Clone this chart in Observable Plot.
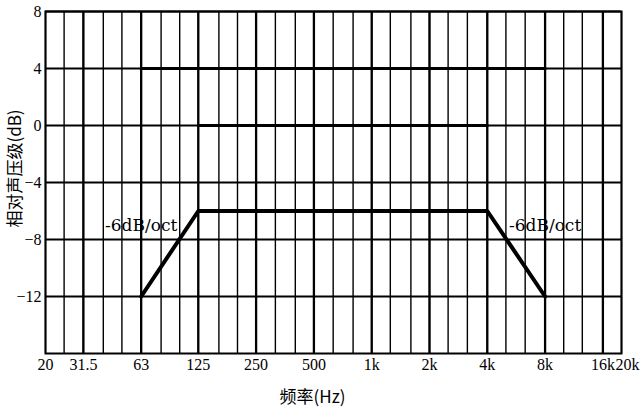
<!DOCTYPE html>
<html>
<head>
<meta charset="utf-8">
<script src="https://cdn.jsdelivr.net/npm/d3@7"></script>
<script src="https://cdn.jsdelivr.net/npm/@observablehq/plot@0.6"></script>
<style>
  html, body { margin: 0; padding: 0; background: #fff; }
</style>
</head>
<body>
<div id="chart"></div>
<script>
// Third-octave grid frequencies (Hz)
const thirdOctaveFreqs = [20,25,31.5,40,50,63,80,100,125,160,200,250,315,400,500,630,800,1000,1250,1600,2000,2500,3150,4000,5000,6300,8000,10000,12500,16000,20000];
// Octave grid frequencies (Hz), drawn thicker
const octaveFreqs = [31.5,63,125,250,500,1000,2000,4000,8000,16000];
// X tick values and labels
const xTickValues = [20,31.5,63,125,250,500,1000,2000,4000,8000,16000];
const xTickLabels = ["20","31.5","63","125","250","500","1k","2k","4k","8k","16k"];
const xLastTick = [20000];
const xLastLabel = ["20k"];
// Y ticks / gridlines (dB)
const yTicks = [8,4,0,-4,-8,-12];

// Upper tolerance step at +4 dB
const upperFreq = [63, 8000];
const upperDb = [4, 4];
// Step at 0 dB
const zeroFreq = [125, 4000];
const zeroDb = [0, 0];
// Lower boundary with -6 dB/oct slopes
const lowerFreq = [63, 125, 4000, 8000];
const lowerDb = [-12, -6, -6, -12];

// Annotations
const annFreq = [63, 8000];
const annDb = [-7, -7];
const annText = ["-6dB/oct", "-6dB/oct"];

const yLabel = "相对声压级(dB)";
const xLabel = "频率(Hz)";

const toRows = (xs, ys) => xs.map((x, i) => ({f: x, db: ys[i]}));
const upper = toRows(upperFreq, upperDb);
const zero = toRows(zeroFreq, zeroDb);
const lower = toRows(lowerFreq, lowerDb);
const ann = annFreq.map((f, i) => ({f, db: annDb[i], t: annText[i]}));
const xTicks = xTickValues.map((f, i) => ({f, t: xTickLabels[i]}));
const xTicksLast = xLastTick.map((f, i) => ({f, t: xLastLabel[i]}));

const chart = Plot.plot({
  width: 640,
  height: 407,
  marginTop: 11,
  marginBottom: 54,
  marginLeft: 45,
  marginRight: 19,
  style: {
    fontFamily: "'Liberation Serif', 'Noto Sans CJK SC', serif",
    fontSize: "16px",
    color: "#000",
    background: "#fff"
  },
  x: {type: "log", domain: [20, 20000], axis: null},
  y: {domain: [-16, 8], axis: null},
  marks: [
    Plot.ruleX(thirdOctaveFreqs, {stroke: "#000", strokeWidth: 1.4}),
    Plot.ruleX(octaveFreqs, {stroke: "#000", strokeWidth: 2.3}),
    Plot.ruleY(yTicks, {stroke: "#000", strokeWidth: 2}),
    Plot.frame({stroke: "#000", strokeWidth: 2}),
    Plot.line(upper, {x: "f", y: "db", stroke: "#000", strokeWidth: 3.2}),
    Plot.line(zero, {x: "f", y: "db", stroke: "#000", strokeWidth: 3.2}),
    Plot.line(lower, {x: "f", y: "db", stroke: "#000", strokeWidth: 4, strokeLinejoin: "miter"}),
    Plot.text(ann, {x: "f", y: "db", text: "t", fill: "#000", fontSize: 17, fontFamily: "'DejaVu Serif', serif", textAnchor: "middle"}),
    Plot.text(xTicks, {x: "f", text: "t", frameAnchor: "bottom", lineAnchor: "top", dy: 5, textAnchor: "middle", fontSize: 16, fill: "#000"}),
    Plot.text(xTicksLast, {x: "f", text: "t", frameAnchor: "bottom", lineAnchor: "top", dy: 5, dx: 6, textAnchor: "middle", fontSize: 16, fill: "#000"}),
    Plot.axisY(yTicks, {tickSize: 0, tickPadding: 4, label: null, fontSize: 16}),
    Plot.text([yLabel], {frameAnchor: "left", text: d => d, rotate: -90, dx: -30, dy: -14, textAnchor: "middle", lineAnchor: "middle", fontSize: 17, fontFamily: "'Noto Sans CJK SC', sans-serif"}),
    Plot.text([xLabel], {frameAnchor: "bottom", text: d => d, dx: -21, dy: 44, textAnchor: "middle", lineAnchor: "middle", fontSize: 17, fontFamily: "'Noto Sans CJK SC', sans-serif"})
  ]
});
document.getElementById("chart").appendChild(chart);
</script>
</body>
</html>
